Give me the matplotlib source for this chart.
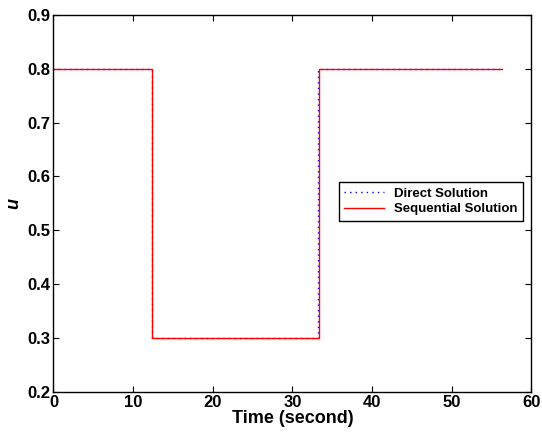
import matplotlib.pyplot as plt

plt.rcParams['font.family'] = ['Liberation Sans', 'DejaVu Sans']
plt.rcParams['font.weight'] = 'bold'

# switching times
t_direct = [0, 12.4, 12.4, 33.2, 33.2, 56.35]
u_direct = [0.8, 0.8, 0.3, 0.3, 0.8, 0.8]
t_seq = [0, 12.4, 12.4, 33.35, 33.35, 56.35]
u_seq = [0.8, 0.8, 0.3, 0.3, 0.8, 0.8]

x_ticks = [0, 10, 20, 30, 40, 50, 60]
y_ticks = [0.2, 0.3, 0.4, 0.5, 0.6, 0.7, 0.8, 0.9]

fig = plt.figure(figsize=(5.42, 4.34), dpi=100)
ax = fig.add_axes([0.0987, 0.0968, 0.8819, 0.8692])

ax.plot(t_direct, u_direct, color='blue', linestyle=(0, (1, 3)), linewidth=1.0, label='Direct Solution')
ax.plot(t_seq, u_seq, color='red', linestyle='-', linewidth=1.0, label='Sequential Solution')

ax.set_xlim(0, 60)
ax.set_ylim(0.2, 0.9)
ax.set_xticks(x_ticks)
ax.set_yticks(y_ticks)
ax.set_xticklabels([str(v) for v in x_ticks], fontsize=12, fontweight='bold')
ax.set_yticklabels(['%.1f' % v for v in y_ticks], fontsize=12, fontweight='bold')
ax.tick_params(direction='in', top=True, right=True, length=4, width=0.8, pad=2)
for s in ax.spines.values():
    s.set_linewidth(1.0)

ax.set_xlabel('Time (second)', fontsize=13, fontweight='bold', labelpad=0)
ax.set_ylabel('u', fontsize=13, fontweight='bold', style='italic', labelpad=4)

leg = ax.legend(loc='center right', bbox_to_anchor=(0.982, 0.505), fontsize=9.5,
                frameon=True, fancybox=False, edgecolor='black', framealpha=1,
                handlelength=3.0, borderpad=0.4, labelspacing=0.25, handletextpad=0.8,
                borderaxespad=0)
leg.get_frame().set_linewidth(1.0)
for txt in leg.get_texts():
    txt.set_fontweight('bold')

fig.savefig('out.png', dpi=100)
